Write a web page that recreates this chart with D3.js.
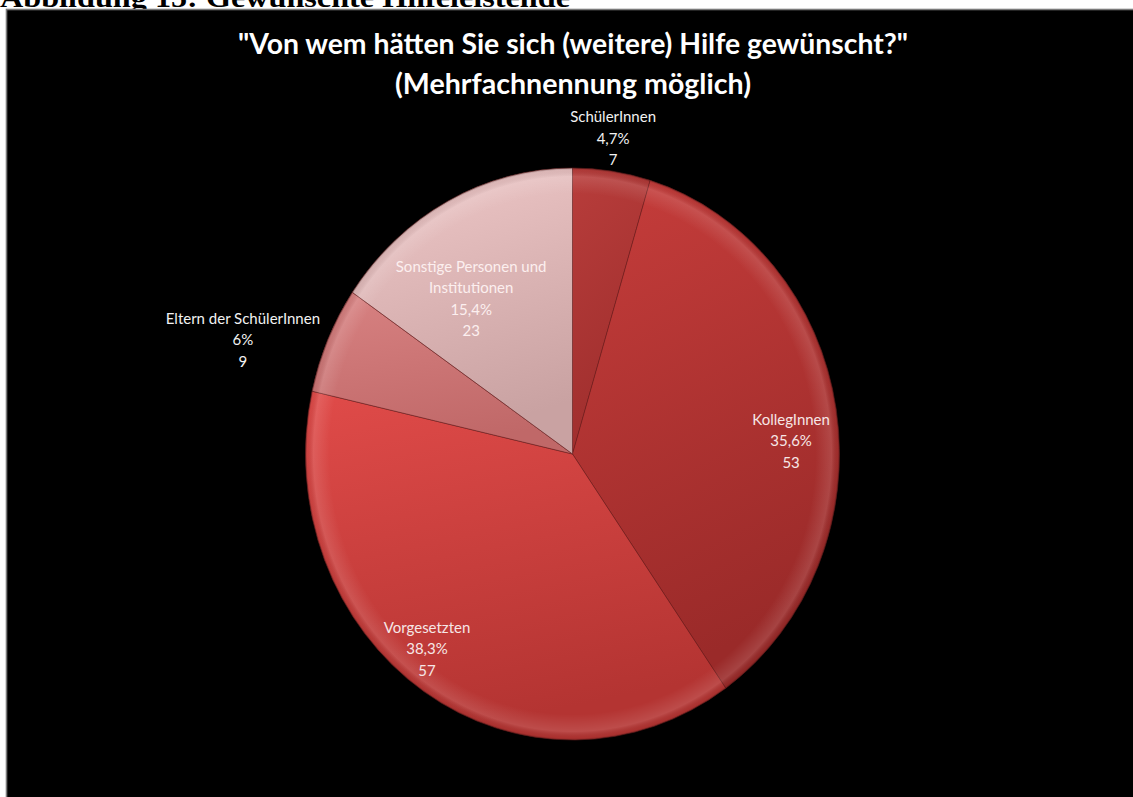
<!DOCTYPE html>
<html lang="de">
<head>
<meta charset="utf-8">
<title>Gewünschte Hilfeleistende</title>
<script src="https://cdn.jsdelivr.net/npm/d3@7"></script>
<style>
  html, body { margin: 0; padding: 0; background: #ffffff; overflow: hidden; }
  svg { display: block; }
</style>
</head>
<body>
<svg id="chart" width="1133" height="797"></svg>
<script>
// Survey answers: "Von wem hätten Sie sich (weitere) Hilfe gewünscht?"
const categories = [
  "SchülerInnen",
  "KollegInnen",
  "Vorgesetzten",
  "Eltern der SchülerInnen",
  "Sonstige Personen und Institutionen"
];
const counts = [7, 53, 57, 9, 23];

// How long category names are broken onto several lines
const nameLines = [
  ["SchülerInnen"],
  ["KollegInnen"],
  ["Vorgesetzten"],
  ["Eltern der SchülerInnen"],
  ["Sonstige Personen und", "Institutionen"]
];

const figureCaption = "Abbildung 15: Gewünschte Hilfeleistende";
const titleLines = ["\"Von wem hätten Sie sich (weitere) Hilfe gewünscht?\"", "(Mehrfachnennung möglich)"];

// ---- styling / layout ----
const W = 1133, H = 797;
const cx = 572.5, cy = 454;
const R = 267;            // horizontal radius
const squash = 286 / 267; // vertical stretch of the pie
const sliceColors = [
  ["#b83d3b", "#9f2e2d"],
  ["#c63d3b", "#9a2a29"],
  ["#e04b49", "#b43432"],
  ["#d88282", "#c06868"],
  ["#efc8c8", "#c9a2a2"]
];
const labelColors = ["#f2f2f2", "#f6e6e6", "#f6e6e6", "#f2f2f2", "#fcefef"];
// radial distance (fraction of R) and angular nudge (deg) for each label block
const labelRadius = [1.112, 0.820, 0.873, 1.297, 0.662];
const labelNudge  = [-0.6, 5.9, 4.8, -5.7, -7.2];
const lineH = 21.5;

const svg = d3.select("#chart");
const defs = svg.append("defs");

// caption above the chart frame
svg.append("text")
  .attr("x", 0).attr("y", 7)
  .attr("font-family", "'Liberation Serif', 'Times New Roman', serif")
  .attr("font-weight", "bold")
  .attr("font-size", 28)
  .attr("textLength", 570)
  .attr("lengthAdjust", "spacingAndGlyphs")
  .attr("fill", "#000")
  .text(figureCaption);

// black chart frame
svg.append("rect")
  .attr("x", 6.5).attr("y", 9.5)
  .attr("width", W + 20).attr("height", H + 20)
  .attr("fill", "#000")
  .attr("stroke", "#7a7a7a")
  .attr("stroke-width", 1.6);

// title
const titleW = [670, 356];
const titleY = [54, 94];
titleLines.forEach((t, i) => {
  svg.append("text")
    .attr("x", 573).attr("y", titleY[i])
    .attr("text-anchor", "middle")
    .attr("font-family", "Lato, 'Open Sans', sans-serif")
    .attr("font-weight", "bold")
    .attr("font-size", 29)
    .attr("textLength", titleW[i])
    .attr("lengthAdjust", "spacingAndGlyphs")
    .attr("fill", "#ffffff")
    .text(t);
});

// gradients for the slices
sliceColors.forEach((c, i) => {
  const g = defs.append("linearGradient")
    .attr("id", "slice" + i)
    .attr("x1", 0).attr("y1", 0).attr("x2", 0.25).attr("y2", 1);
  g.append("stop").attr("offset", "0%").attr("stop-color", c[0]);
  g.append("stop").attr("offset", "100%").attr("stop-color", c[1]);
});

// rim shading: faint light band near the edge, slightly darker right at the edge
const rim = defs.append("radialGradient")
  .attr("id", "rim")
  .attr("gradientUnits", "userSpaceOnUse")
  .attr("cx", 0).attr("cy", 0).attr("r", R);
rim.append("stop").attr("offset", "0%").attr("stop-color", "#fff").attr("stop-opacity", 0);
rim.append("stop").attr("offset", "91%").attr("stop-color", "#fff").attr("stop-opacity", 0);
rim.append("stop").attr("offset", "97%").attr("stop-color", "#fff").attr("stop-opacity", 0.12);
rim.append("stop").attr("offset", "99.3%").attr("stop-color", "#000").attr("stop-opacity", 0.05);
rim.append("stop").attr("offset", "100%").attr("stop-color", "#000").attr("stop-opacity", 0.25);

const pie = d3.pie().sort(null).value(d => d)
  .startAngle(0).endAngle(2 * Math.PI);
const arcs = pie(counts);
const arc = d3.arc().innerRadius(0).outerRadius(R);

const pieG = svg.append("g")
  .attr("transform", `translate(${cx},${cy}) scale(1,${squash})`);

pieG.selectAll("path.slice")
  .data(arcs)
  .join("path")
  .attr("class", "slice")
  .attr("d", arc)
  .attr("fill", (d, i) => `url(#slice${i})`)
  .attr("stroke", "#6e1e1e")
  .attr("stroke-opacity", 0.55)
  .attr("stroke-width", 1)
  .attr("vector-effect", "non-scaling-stroke");

pieG.append("circle")
  .attr("r", R)
  .attr("fill", "url(#rim)")
  .attr("pointer-events", "none");

// labels: name, share, count
const total = d3.sum(counts);
const pctText = v => {
  const s = (Math.round(v / total * 1000) / 10).toFixed(1).replace(/\.0$/, "");
  return s.replace(".", ",") + "%";
};

arcs.forEach((d, i) => {
  const a = (d.startAngle + d.endAngle) / 2 + labelNudge[i] * Math.PI / 180;
  const r = R * labelRadius[i];
  const x = cx + r * Math.sin(a);
  const y = cy - r * Math.cos(a) * squash;
  const lines = nameLines[i].concat([pctText(counts[i]), String(counts[i])]);
  const first = y - (lines.length - 1) * lineH / 2 + 5;
  const t = svg.append("text")
    .attr("text-anchor", "middle")
    .attr("font-family", "Lato, 'Open Sans', sans-serif")
    .attr("font-size", 15)
    .attr("fill", labelColors[i]);
  lines.forEach((ln, k) => {
    t.append("tspan").attr("x", x).attr("y", first + k * lineH).text(ln);
  });
});
</script>
</body>
</html>
